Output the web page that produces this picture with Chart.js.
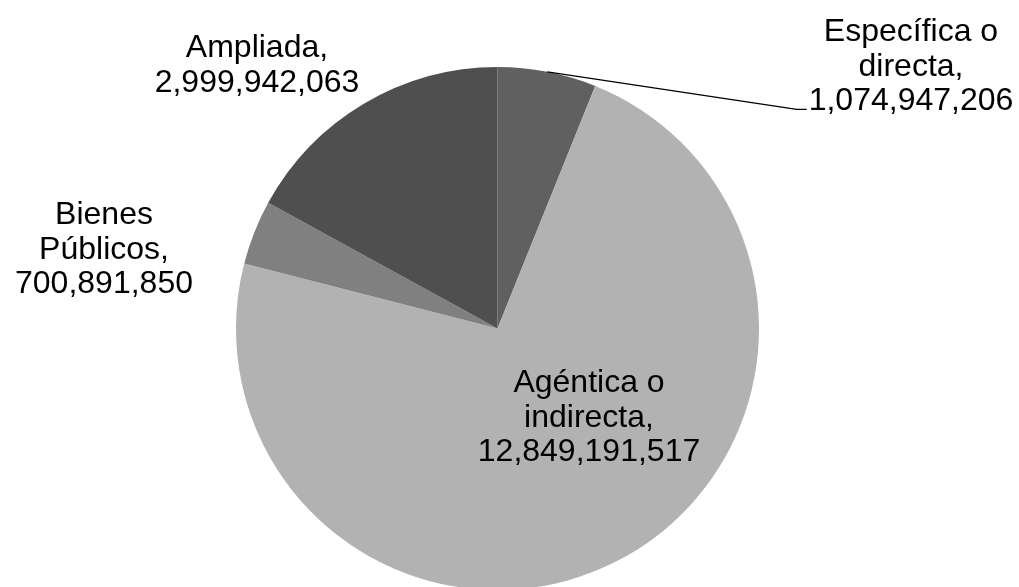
<!DOCTYPE html>
<html>
<head>
<meta charset="utf-8">
<script src="https://cdn.jsdelivr.net/npm/chart.js@4.4.0/dist/chart.umd.min.js"></script>
<style>
  html, body { margin: 0; padding: 0; background: #fff; overflow: hidden; }
  #wrap { width: 1019px; height: 595px; }
</style>
</head>
<body>
<div id="wrap"><canvas id="pie" width="1019" height="595"></canvas></div>
<script>
// ── Datos ─────────────────────────────────────────────────────────────
const categories = ['Específica o directa', 'Agéntica o indirecta', 'Bienes Públicos', 'Ampliada'];
const values     = [1074947206, 12849191517, 700891850, 2999942063];
const labelLines = [['Específica o', 'directa,'], ['Agéntica o', 'indirecta,'], ['Bienes', 'Públicos,'], ['Ampliada,']];
const sliceColors = ['#606060', '#b2b2b2', '#808080', '#4f4f4f'];

// posición de cada etiqueta (centro x, centro de la primera línea y)
const labelPos = [[911, 30], [589, 381], [104, 213], [257, 46]];
const LINE_H = 34.5;
const FONT_PX = 32;

const dataLabels = {
  id: 'dataLabels',
  afterDraw(chart) {
    const ctx = chart.ctx;
    const arcs = chart.getDatasetMeta(0).data;
    ctx.save();
    ctx.font = FONT_PX + 'px "Liberation Sans", Arial, sans-serif';
    ctx.fillStyle = '#000';
    ctx.textAlign = 'center';
    ctx.textBaseline = 'alphabetic';
    const capMid = FONT_PX * 0.358;
    labelLines.forEach((lines, i) => {
      const all = lines.concat([values[i].toLocaleString('en-US')]);
      const [cx, cy] = labelPos[i];
      all.forEach((t, k) => ctx.fillText(t, cx, cy + k * LINE_H + capMid));
    });

    // línea guía para "Específica o directa"
    const a = arcs[0];
    const mid = (a.startAngle + a.endAngle) / 2;
    const sx = a.x + Math.cos(mid) * a.outerRadius;
    const sy = a.y + Math.sin(mid) * a.outerRadius;
    const numText = values[0].toLocaleString('en-US');
    const numW = ctx.measureText(numText).width;
    const ly = labelPos[0][1] + 2 * LINE_H + capMid - 1;
    const lx = labelPos[0][0] - numW / 2 - 2;
    ctx.strokeStyle = '#000';
    ctx.lineWidth = 1.2;
    ctx.beginPath();
    ctx.moveTo(sx, sy);
    ctx.lineTo(lx - 10, ly);
    ctx.lineTo(lx, ly);
    ctx.stroke();
    ctx.restore();
  }
};

new Chart(document.getElementById('pie'), {
  type: 'pie',
  data: {
    labels: categories,
    datasets: [{ data: values, backgroundColor: sliceColors, borderWidth: 0 }]
  },
  options: {
    responsive: false,
    animation: false,
    layout: { padding: { top: 67, bottom: 5, left: 0, right: 24 } },
    plugins: { legend: { display: false }, tooltip: { enabled: false } }
  },
  plugins: [dataLabels]
});
</script>
</body>
</html>
